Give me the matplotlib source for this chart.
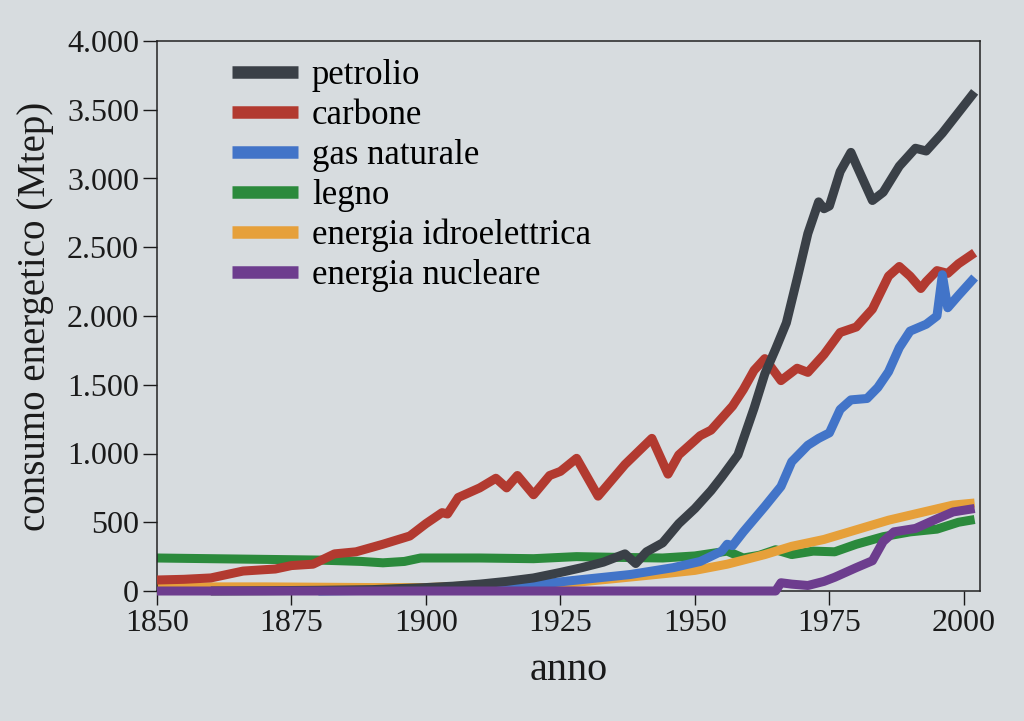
import matplotlib
matplotlib.use("Agg")
import matplotlib.pyplot as plt
from matplotlib.ticker import FuncFormatter

# consumo energetico mondiale (Mtep)
petrolio_anni = [1860, 1870, 1880, 1890, 1900, 1905, 1910, 1915, 1920, 1925, 1929, 1933,
                 1937, 1939, 1941, 1944, 1947, 1950, 1953, 1955, 1958, 1961, 1963, 1965,
                 1967, 1969, 1971, 1973, 1974, 1975, 1977, 1979, 1980, 1983, 1985, 1988,
                 1991, 1993, 1996, 1998, 2002]
petrolio = [0, 2, 5, 10, 25, 35, 50, 70, 95, 135, 170, 210,
            270, 200, 285, 350, 490, 600, 730, 830, 990, 1330, 1580, 1760,
            1950, 2270, 2600, 2830, 2780, 2800, 3050, 3190, 3100, 2840, 2900, 3090,
            3220, 3200, 3330, 3430, 3630]

carbone_anni = [1850, 1855, 1860, 1866, 1872, 1875, 1879, 1883, 1887, 1892, 1897, 1900,
                1903, 1904, 1906, 1910, 1913, 1915, 1917, 1920, 1923, 1925, 1928, 1932,
                1937, 1942, 1945, 1947, 1951, 1953, 1957, 1959, 1961, 1963, 1966, 1969,
                1971, 1974, 1977, 1980, 1983, 1986, 1988, 1990, 1992, 1993, 1995, 1997,
                1999, 2002]
carbone = [80, 85, 95, 145, 160, 185, 195, 270, 285, 340, 400, 490,
           570, 560, 680, 750, 820, 750, 840, 700, 840, 870, 965, 690,
           920, 1110, 850, 990, 1130, 1170, 1345, 1465, 1605, 1690, 1530, 1620,
           1590, 1720, 1880, 1920, 2050, 2290, 2360, 2290, 2200, 2250, 2330, 2310,
           2380, 2460]

gas_anni = [1880, 1890, 1900, 1910, 1920, 1927, 1938, 1946, 1951, 1955, 1956, 1957,
            1959, 1963, 1966, 1968, 1971, 1973, 1975, 1977, 1979, 1982, 1984, 1986,
            1988, 1990, 1993, 1995, 1996, 1997, 1999, 2002]
gas = [0, 5, 10, 25, 45, 75, 120, 170, 215, 290, 340, 330,
       430, 615, 760, 940, 1060, 1110, 1150, 1320, 1390, 1400, 1480, 1595,
       1770, 1890, 1940, 2000, 2300, 2060, 2150, 2280]

legno_anni = [1850, 1860, 1870, 1880, 1888, 1892, 1896, 1899, 1910, 1920, 1928, 1935,
              1944, 1950, 1956, 1959, 1962, 1965, 1968, 1972, 1976, 1980, 1985, 1990,
              1995, 1999, 2002]
legno = [240, 235, 230, 225, 215, 205, 215, 240, 240, 235, 250, 245,
         240, 255, 290, 240, 260, 300, 265, 290, 285, 340, 395, 430,
         450, 500, 520]

idro_anni = [1850, 1870, 1890, 1900, 1910, 1917, 1927, 1935, 1944, 1950, 1956, 1963,
             1968, 1974, 1980, 1986, 1992, 1998, 2002]
idro = [30, 30, 25, 25, 40, 55, 60, 90, 125, 150, 195, 265,
        325, 375, 445, 515, 570, 625, 640]

nucleare_anni = [1850, 1965, 1966, 1968, 1971, 1974, 1976, 1980, 1983, 1985, 1987, 1991,
                 1995, 1998, 2002]
nucleare = [0, 0, 60, 50, 40, 70, 100, 170, 220, 360, 430, 455,
            525, 575, 600]

serie = [
    ("petrolio", petrolio_anni, petrolio, "#3a4047", 5),
    ("carbone", carbone_anni, carbone, "#b23a30", 3),
    ("gas naturale", gas_anni, gas, "#4274c8", 4),
    ("legno", legno_anni, legno, "#2b8a3c", 1),
    ("energia idroelettrica", idro_anni, idro, "#e6a03a", 2),
    ("energia nucleare", nucleare_anni, nucleare, "#6d3d8e", 6),
]

bg = "#d7dcdf"
plt.rcParams["font.family"] = ["Liberation Serif", "DejaVu Serif"]
fig = plt.figure(figsize=(10.24, 7.21), dpi=100, facecolor=bg)
ax = fig.add_axes([157 / 1024, 130 / 721, 823 / 1024, 550 / 721], facecolor=bg)

for nome, x, y, col, z in serie:
    ax.plot(x, y, color=col, lw=6.5, label=nome, zorder=z, clip_on=False,
            solid_capstyle="butt", solid_joinstyle="round")

ax.set_xlim(1850, 2003)
ax.set_ylim(0, 4000)
ax.set_xticks([1850, 1875, 1900, 1925, 1950, 1975, 2000])
ax.set_yticks(range(0, 4001, 500))
ax.yaxis.set_major_formatter(FuncFormatter(lambda v, p: f"{int(v):,}".replace(",", ".")))
ax.tick_params(direction="out", length=10, width=1, labelsize=23, colors="#1a1a1a", pad=3)
for s in ax.spines.values():
    s.set_linewidth(1.1)
    s.set_color("#222222")

ax.set_xlabel("anno", fontsize=29, color="#1a1a1a", labelpad=10)
ax.set_ylabel("consumo energetico (Mtep)", fontsize=28, color="#1a1a1a", labelpad=9)

leg = ax.legend(loc="upper left", bbox_to_anchor=(0.091, 0.967), frameon=False,
                fontsize=25, handlelength=1.9, handletextpad=0.4, labelspacing=0.2,
                borderpad=0, borderaxespad=0)
for h in leg.legend_handles:
    h.set_linewidth(9)

fig.savefig("out.png", dpi=100, facecolor=bg)
